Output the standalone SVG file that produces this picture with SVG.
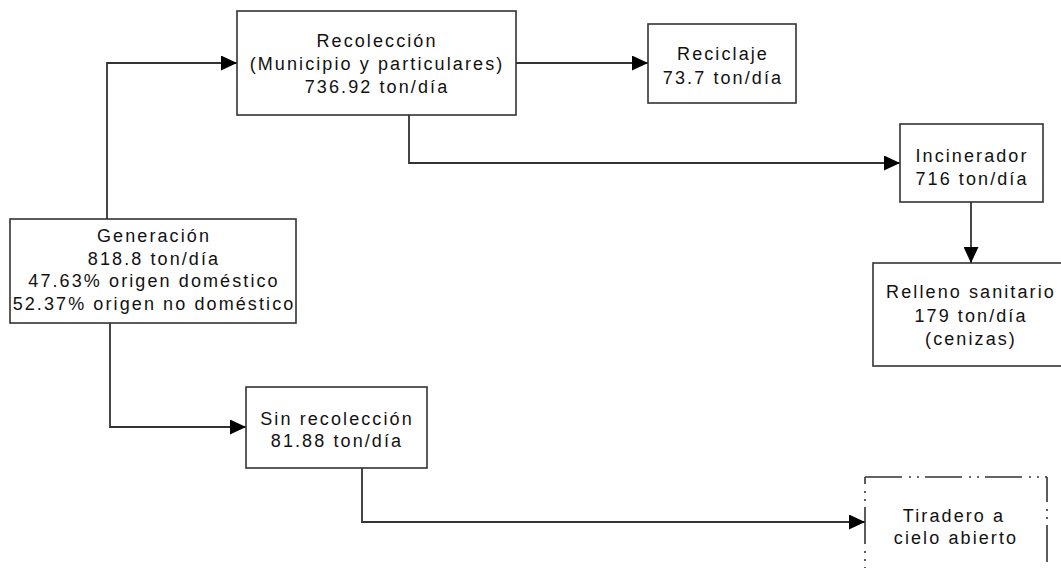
<svg xmlns="http://www.w3.org/2000/svg" width="1061" height="568" viewBox="0 0 1061 568">
<style>
.box{fill:#fff;stroke:#333;stroke-width:1.6}
.dash{fill:none;stroke:#333;stroke-width:1.6;stroke-dasharray:37 7 2 6 2 6}
.t{font-family:"Liberation Sans",Arial,sans-serif;font-size:18px;letter-spacing:2.1px;fill:#111;text-anchor:middle}
.c{fill:none;stroke:#333;stroke-width:1.8}
</style>
<defs>
<marker id="ah" markerUnits="userSpaceOnUse" markerWidth="16" markerHeight="15" refX="16" refY="7.5" orient="auto">
<path d="M0,0 L16,7.5 L0,15 z" fill="#000"/>
</marker>
</defs>
<rect width="1061" height="568" fill="#fff"/>
<g id="connectors">
<path class="c" d="M107,219 V63 H237" marker-end="url(#ah)"/>
<path class="c" d="M110,323 V427 H246" marker-end="url(#ah)"/>
<path class="c" d="M516,63 H648" marker-end="url(#ah)"/>
<path class="c" d="M409,115 V163 H900" marker-end="url(#ah)"/>
<path class="c" d="M971,202 V263" marker-end="url(#ah)"/>
<path class="c" d="M362,468 V522 H865" marker-end="url(#ah)"/>
</g>
<g id="generacion">
<rect class="box" x="10" y="219" width="286" height="104"/>
<text class="t" x="154" y="242">Generación</text>
<text class="t" x="154" y="264.5">818.8 ton/día</text>
<text class="t" x="154" y="287">47.63% origen doméstico</text>
<text class="t" x="154" y="309.5">52.37% origen no doméstico</text>
</g>
<g id="recoleccion">
<rect class="box" x="237" y="11" width="279" height="104"/>
<text class="t" x="377" y="47">Recolección</text>
<text class="t" x="377" y="70">(Municipio y particulares)</text>
<text class="t" x="377" y="93">736.92 ton/día</text>
</g>
<g id="reciclaje">
<rect class="box" x="648" y="24" width="148" height="79"/>
<text class="t" x="723" y="60">Reciclaje</text>
<text class="t" x="723" y="84">73.7 ton/día</text>
</g>
<g id="incinerador">
<rect class="box" x="900" y="124" width="143" height="78"/>
<text class="t" x="972" y="162">Incinerador</text>
<text class="t" x="972" y="185">716 ton/día</text>
</g>
<g id="relleno">
<rect class="box" x="873" y="263" width="195" height="103"/>
<text class="t" x="971" y="298">Relleno sanitario</text>
<text class="t" x="971" y="322">179 ton/día</text>
<text class="t" x="971" y="345">(cenizas)</text>
</g>
<g id="sin-recoleccion">
<rect class="box" x="246" y="387" width="181" height="81"/>
<text class="t" x="337" y="425">Sin recolección</text>
<text class="t" x="337" y="447">81.88 ton/día</text>
</g>
<g id="tiradero">
<path class="dash" d="M865,477 H1047"/>
<path class="dash" d="M865,477 V575" style="stroke-dashoffset:30"/>
<path class="dash" d="M1047,477 V575" style="stroke-dashoffset:12"/>
<text class="t" x="954" y="522">Tiradero a</text>
<text class="t" x="956" y="544">cielo abierto</text>
</g>
</svg>
